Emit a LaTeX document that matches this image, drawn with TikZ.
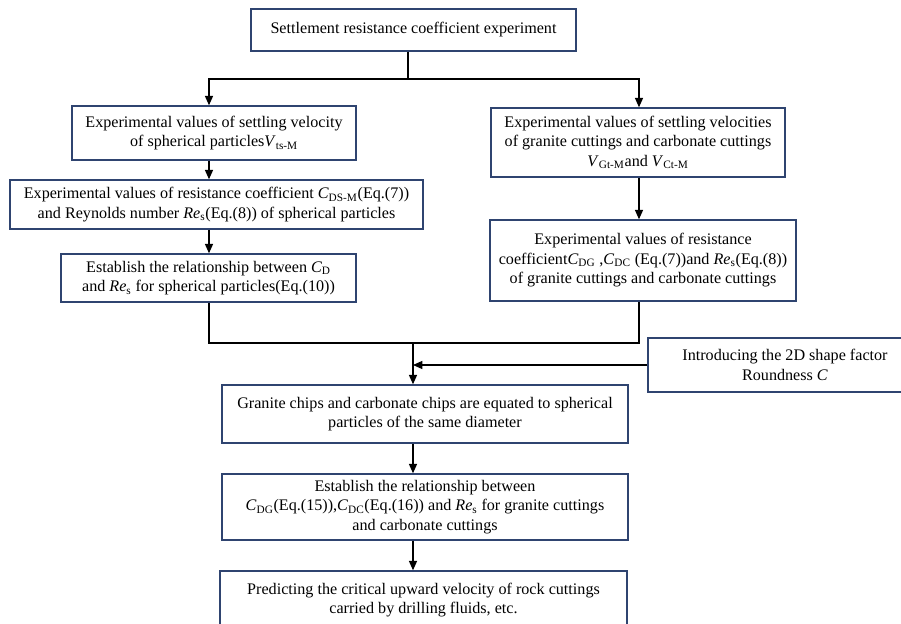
\documentclass[tikz,border=0pt]{standalone}
\usepackage{fontspec}
\setmainfont{Liberation Serif}
\usetikzlibrary{arrows.meta}
\definecolor{boxblue}{HTML}{2F4470}
\newcommand{\lsb}[1]{\textsubscript{#1}}
\begin{document}
\begin{tikzpicture}[x=0.75pt,y=-0.75pt,
  bx/.style={draw=boxblue,line width=1.1pt,fill=white,align=center,inner sep=0pt,
    font=\fontsize{12.1pt}{14.6pt}\selectfont},
  ln/.style={draw=black,line width=1pt},
  arr/.style={ln,-{Triangle[length=7pt,width=6pt]}}]
\clip (0,0) rectangle (901,624);
\useasboundingbox (0,0) rectangle (901,624);
\fill[white] (0,0) rectangle (901,624);
% nodes
\node[bx,minimum width=243.75pt,minimum height=31.5pt] (top) at (413.5,30) {Settlement resistance coefficient experiment};
\node[bx,minimum width=213pt,minimum height=40.5pt] (L1) at (214,133) {Experimental values of settling velocity\\of spherical particles\textit{V}\lsb{ts-M}};
\node[bx,minimum width=309.75pt,minimum height=36.75pt] (L2) at (216.5,204.5) {Experimental values of resistance coefficient \textit{C}\lsb{DS-M}(Eq.(7))\\and Reynolds number \textit{Re}\lsb{s}(Eq.(8)) of spherical particles};
\node[bx,minimum width=221.25pt,minimum height=36pt] (L3) at (208.5,278) {Establish the relationship between \textit{C}\lsb{D}\\and \textit{Re}\lsb{s} for spherical particles(Eq.(10))};
\node[bx,minimum width=220.5pt,minimum height=51.75pt] (R1) at (638,142.5) {Experimental values of settling velocities\\of granite cuttings and carbonate cuttings\\\textit{V}\lsb{Gt-M}and \textit{V}\lsb{Ct-M}};
\node[bx,minimum width=229.5pt,minimum height=60.75pt] (R2) at (643,260.5) {Experimental values of resistance\\coefficient\textit{C}\lsb{DG} ,\textit{C}\lsb{DC} (Eq.(7))and \textit{Re}\lsb{s}(Eq.(8))\\of granite cuttings and carbonate cuttings};
\node[bx,minimum width=205.5pt,minimum height=40.5pt] (I) at (785,365) {Introducing the 2D shape factor\\Roundness \textit{C}};
\node[bx,minimum width=304.5pt,minimum height=43.5pt] (G) at (425,414) {Granite chips and carbonate chips are equated to spherical\\particles of the same diameter};
\node[bx,minimum width=304.5pt,minimum height=49.5pt] (E) at (425,507) {Establish the relationship between\\\textit{C}\lsb{DG}(Eq.(15)),\textit{C}\lsb{DC}(Eq.(16)) and \textit{Re}\lsb{s} for granite cuttings\\and carbonate cuttings};
\node[bx,minimum width=305.25pt,minimum height=43.5pt] (P) at (423.5,600) {Predicting the critical upward velocity of rock cuttings\\carried by drilling fluids, etc.};
% helper coordinates
\coordinate (xl) at (209,0);
\coordinate (xr) at (639,0);
\coordinate (xt) at (408,0);
\coordinate (xc) at (413,0);
\coordinate (j1) at (408,79);
\coordinate (j2) at (413,343);
% connectors
\draw[ln] (top.south -| xt) -- (j1);
\draw[arr] (j1) -| (L1.north -| xl);
\draw[arr] (j1) -| (R1.north -| xr);
\draw[arr] (L1.south -| xl) -- (L2.north -| xl);
\draw[arr] (L2.south -| xl) -- (L3.north -| xl);
\draw[arr] (R1.south -| xr) -- (R2.north -| xr);
\draw[ln] (L3.south -| xl) |- (j2) -| (R2.south -| xr);
\draw[arr] (j2) -- (G.north -| xc);
\draw[arr] (I.west) -- (I.west -| xc);
\draw[arr] (G.south -| xc) -- (E.north -| xc);
\draw[arr] (E.south -| xc) -- (P.north -| xc);
\end{tikzpicture}
\end{document}
